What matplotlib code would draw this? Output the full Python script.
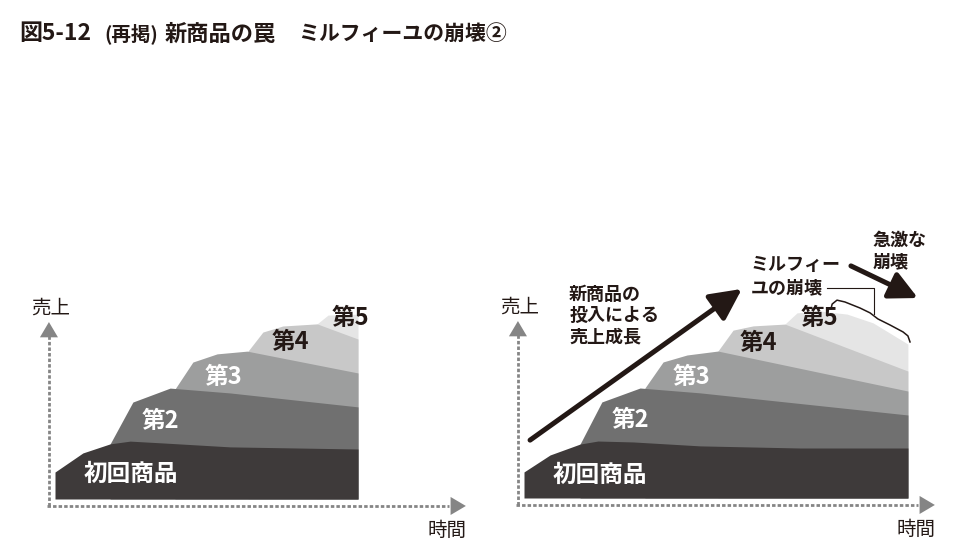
import numpy as np
import matplotlib
matplotlib.use('Agg')
import matplotlib.pyplot as plt

plt.rcParams['font.family'] = ['Noto Sans CJK JP', 'DejaVu Sans']

W, H = 954, 559
PX = 30.3  # 1 data unit in pixels (both panels)

# ---- data: top edge of each layer (time, sales) ----
# left panel (before collapse)
left_t = [
    [0, 0.92, 1.82, 2.48, 3.56, 5.78, 10.0],
    [1.82, 2.57, 3.80, 5.78, 10.0],
    [3.96, 4.55, 5.35, 6.34, 10.0],
    [6.37, 6.86, 7.52, 8.65, 10.0],
    [8.65, 9.01, 10.0],
]
left_s = [
    [0.89, 1.52, 1.82, 1.91, 1.85, 1.72, 1.65],
    [1.82, 3.20, 3.66, 3.50, 3.04],
    [3.63, 4.52, 4.79, 4.88, 4.16],
    [4.88, 5.51, 5.71, 5.78, 5.28],
    [5.78, 6.07, 6.10],
]
# right panel (collapse)
right_t = [
    [0, 0.86, 1.85, 2.44, 3.60, 5.81, 9.11, 12.67],
    [1.85, 2.57, 3.83, 5.81, 12.67],
    [3.99, 4.59, 5.38, 6.40, 12.67],
    [6.40, 6.90, 7.56, 8.61, 12.67],
    [8.61, 9.01, 9.77, 10.66, 11.52, 12.67],
]
right_s = [
    [0.86, 1.42, 1.78, 1.88, 1.85, 1.72, 1.65, 1.65],
    [1.78, 3.17, 3.63, 3.47, 2.74],
    [3.63, 4.49, 4.72, 4.85, 3.53],
    [4.85, 5.54, 5.68, 5.74, 4.19],
    [5.74, 6.11, 6.17, 6.07, 5.78, 5.08],
]

layer_names = ['初回商品', '第2', '第3', '第4', '第5']
layer_colors = ['#3e3a3a', '#707070', '#9d9e9e', '#c8c8c8', '#e5e5e5']
label_colors = ['white', 'white', 'white', '#231815', '#231815']
left_label_pos = [(2.52, 0.83), (3.48, 2.57), (5.56, 4.03), (7.76, 5.18), (9.74, 5.97)]
right_label_pos = [(2.51, 0.76), (3.50, 2.57), (5.54, 3.99), (7.73, 5.12), (9.74, 5.94)]

fig = plt.figure(figsize=(W / 100, H / 100), dpi=100)


def add_panel(x0, y0, tmin, tmax, smin, smax):
    # x0, y0: pixel position of the data origin (y from top)
    left = (x0 + tmin * PX) / W
    bottom = (H - y0 + smin * PX) / H
    ax = fig.add_axes([left, bottom, (tmax - tmin) * PX / W, (smax - smin) * PX / H])
    ax.set_xlim(tmin, tmax)
    ax.set_ylim(smin, smax)
    ax.axis('off')
    return ax


def draw_layers(ax, ts, ss, label_pos):
    # top layer first, lower layers drawn over it
    for i in range(len(ts) - 1, -1, -1):
        t = np.array(ts[i])
        s = np.array(ss[i])
        ax.fill_between(t, 0, s, color=layer_colors[i], lw=0, zorder=2 + (5 - i) * 0.1)
    for i, (tx, sy) in enumerate(label_pos):
        ax.text(tx, sy, layer_names[i], color=label_colors[i], fontsize=17,
                fontweight='bold', ha='center', va='center', zorder=5)


def draw_axes(ax):
    grey = '#858585'
    ax.plot([-0.26, 13.0], [-0.23, -0.23], color=grey, lw=2.0,
            linestyle=(0, (1.25, 0.75)), zorder=1)
    ax.plot([-0.2, -0.2], [-0.23, 5.4], color=grey, lw=2.0,
            linestyle=(0, (1.25, 0.75)), zorder=1)
    hp = dict(arrowstyle='-|>,head_length=11,head_width=6.5', color=grey,
              lw=0, mutation_scale=1, shrinkA=0, shrinkB=0)
    ax.annotate('', xy=(13.56, -0.23), xytext=(12.9, -0.23), arrowprops=hp)
    ax.annotate('', xy=(-0.2, 5.84), xytext=(-0.2, 5.2), arrowprops=hp)
    ax.text(-0.13, 6.3, '売上', fontsize=14, ha='center', va='center', color='#231815')
    ax.text(12.94, -1.04, '時間', fontsize=14, ha='center', va='center', color='#231815')


# left panel
axl = add_panel(55, 499, -1.0, 13.9, -2.0, 8.0)
draw_layers(axl, left_t, left_s, left_label_pos)
draw_axes(axl)

# right panel
axr = add_panel(524, 498, -1.0, 14.0, -2.0, 9.5)
draw_layers(axr, right_t, right_s, right_label_pos)
draw_axes(axr)

# growth arrow
axr.annotate('', xy=(7.19, 6.9), xytext=(0.2, 1.91),
             arrowprops=dict(arrowstyle='-|>,head_length=19,head_width=9.5', color='#231815',
                             lw=3.6, mutation_scale=1, shrinkA=0, shrinkB=0), zorder=6)
# collapse arrow
axr.annotate('', xy=(13.0, 6.6), xytext=(10.79, 7.66),
             arrowprops=dict(arrowstyle='-|>,head_length=17,head_width=8.5', color='#231815',
                             lw=3.6, mutation_scale=1, shrinkA=0, shrinkB=0), zorder=6)

# brace over the 5th layer and its leader line
brace_t = [10.13, 10.17, 10.33, 10.59, 11.09, 11.42, 11.55, 11.68, 12.08, 12.51, 12.67, 12.74]
brace_s = [6.24, 6.40, 6.53, 6.47, 6.27, 6.11, 6.01, 5.91, 5.71, 5.48, 5.35, 5.15]
axr.plot(brace_t, brace_s, color='#231815', lw=1.1, solid_joinstyle='round', zorder=6)
axr.plot([10.0, 11.55, 11.55], [6.93, 6.93, 6.08], color='#231815', lw=0.8, zorder=6)

note_kw = dict(fontsize=13, fontweight='bold', ha='left', va='center', color='#231815')
for k, line in enumerate(['新商品の', '投入による', '売上成長']):
    axr.text(1.49, [6.73, 6.04, 5.31][k], line, **note_kw)
for k, line in enumerate(['ミルフィー', 'ユの崩壊']):
    axr.text(7.49, [7.72, 6.93][k], line, **note_kw)
for k, line in enumerate(['急激な', '崩壊']):
    axr.text(11.49, [8.51, 7.79][k], line, **note_kw)

# title
ty = 1 - 34 / H
tkw = dict(fontweight='bold', va='center', ha='left', color='#231815')
fig.text(19 / W, ty, '図5-12', fontsize=16.5, **tkw)
fig.text(104 / W, ty, '(再掲)', fontsize=14, **tkw)
fig.text(165 / W, ty, '新商品の罠', fontsize=16, **tkw)
fig.text(298 / W, ty, 'ミルフィーユの崩壊②', fontsize=15, **tkw)

fig.savefig('out.png', dpi=100, facecolor='white')
